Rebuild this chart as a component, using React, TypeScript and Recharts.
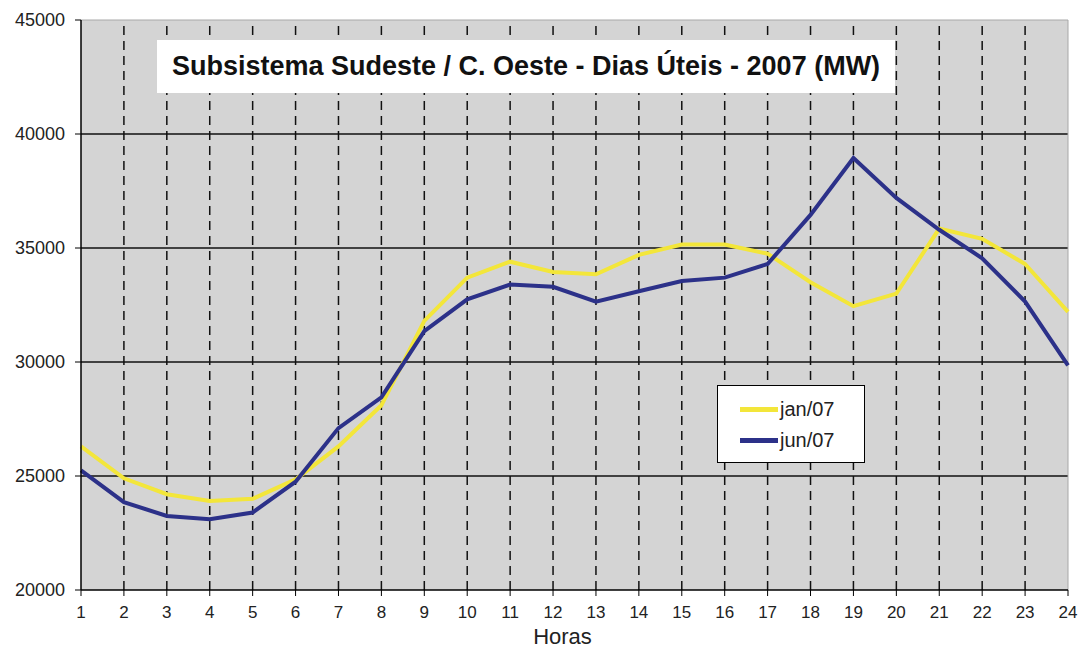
import React from "react";
import {
  CartesianGrid,
  Line,
  LineChart,
  ReferenceLine,
  XAxis,
  YAxis,
} from "recharts";

const hours = [1, 2, 3, 4, 5, 6, 7, 8, 9, 10, 11, 12, 13, 14, 15, 16, 17, 18, 19, 20, 21, 22, 23, 24];
const jan07 = [
  26300, 24900, 24200, 23900, 24000, 24850, 26300, 28100, 31800, 33700, 34400, 33950,
  33850, 34700, 35150, 35150, 34750, 33500, 32450, 33000, 35850, 35400, 34300, 32200,
];
const jun07 = [
  25250, 23850, 23250, 23100, 23400, 24750, 27100, 28450, 31350, 32750, 33400, 33300,
  32650, 33100, 33550, 33700, 34300, 36450, 38950, 37200, 35800, 34550, 32650, 29850,
];
const yTicks = [20000, 25000, 30000, 35000, 40000, 45000];
const innerGridY = [25000, 30000, 35000, 40000];
const innerGridX = [2, 3, 4, 5, 6, 7, 8, 9, 10, 11, 12, 13, 14, 15, 16, 17, 18, 19, 20, 21, 22, 23];

const seriesInfo = [
  { key: "jan", name: "jan/07", color: "#f3e63a" },
  { key: "jun", name: "jun/07", color: "#2c3189" },
];

const data = hours.map((h, i) => ({ hour: h, jan: jan07[i], jun: jun07[i] }));

const font = "'Liberation Sans', Arial, sans-serif";

// legend box drawn over the plot, same spot as in the original
const LegendBox = () => (
  <div
    style={{
      position: "absolute",
      left: 717,
      top: 385,
      width: 148,
      height: 78,
      border: "1.5px solid #000",
      background: "#fff",
      boxSizing: "border-box",
      paddingTop: 8,
      paddingLeft: 22,
      fontFamily: font,
      fontSize: 20,
      color: "#222",
    }}
  >
    {seriesInfo.map((s) => (
      <div key={s.key} style={{ display: "flex", alignItems: "center", height: 31 }}>
        <span
          style={{
            display: "inline-block",
            width: 38,
            height: 5,
            background: s.color,
            marginRight: 2,
          }}
        />
        <span>{s.name}</span>
      </div>
    ))}
  </div>
);

export default function App() {
  return (
    <div style={{ position: "absolute", left: 0, top: 0, width: 1084, height: 650, background: "#fff" }}>
      <LineChart width={1084} height={650} data={data} margin={{ top: 20, right: 16, left: 0, bottom: 0 }}>
        <CartesianGrid fill="#d4d4d4" stroke="#a8a8a8" vertical={false} horizontalValues={[45000]} />
        {innerGridX.map((x) => (
          <ReferenceLine key={"x" + x} x={x} stroke="#111" strokeWidth={1.5} strokeDasharray="9 6" />
        ))}
        {innerGridY.map((y) => (
          <ReferenceLine key={"y" + y} y={y} stroke="#111" strokeWidth={1.5} />
        ))}
        <ReferenceLine x={24} stroke="#a8a8a8" />
        <XAxis
          dataKey="hour"
          type="number"
          domain={[1, 24]}
          ticks={hours}
          interval={0}
          height={60}
          axisLine={{ stroke: "#000", strokeWidth: 1.5 }}
          tickLine={{ stroke: "#000" }}
          tickSize={6}
          tickMargin={10}
          tick={{ fontSize: 17, fill: "#222", fontFamily: font }}
          label={{
            value: "Horas",
            position: "insideBottom",
            offset: 6,
            dx: -12,
            style: { fontSize: 22, fill: "#222", fontFamily: font },
          }}
        />
        <YAxis
          type="number"
          domain={[20000, 45000]}
          ticks={yTicks}
          interval={0}
          width={81}
          axisLine={{ stroke: "#000", strokeWidth: 1.5 }}
          tickLine={{ stroke: "#000" }}
          tickSize={6}
          tickMargin={10}
          tick={{ fontSize: 18, fill: "#222", fontFamily: font }}
        />
        {seriesInfo.map((s) => (
          <Line
            key={s.key}
            type="linear"
            dataKey={s.key}
            name={s.name}
            stroke={s.color}
            strokeWidth={4}
            dot={false}
            activeDot={false}
            isAnimationActive={false}
          />
        ))}
      </LineChart>
      <LegendBox />
      <div
        style={{
          position: "absolute",
          left: 157,
          top: 40,
          width: 738,
          height: 53,
          background: "#fff",
          display: "flex",
          alignItems: "center",
          justifyContent: "center",
          fontFamily: font,
          fontWeight: "bold",
          fontSize: 27,
          color: "#111",
        }}
      >
        Subsistema Sudeste / C. Oeste - Dias Úteis - 2007 (MW)
      </div>
    </div>
  );
}
